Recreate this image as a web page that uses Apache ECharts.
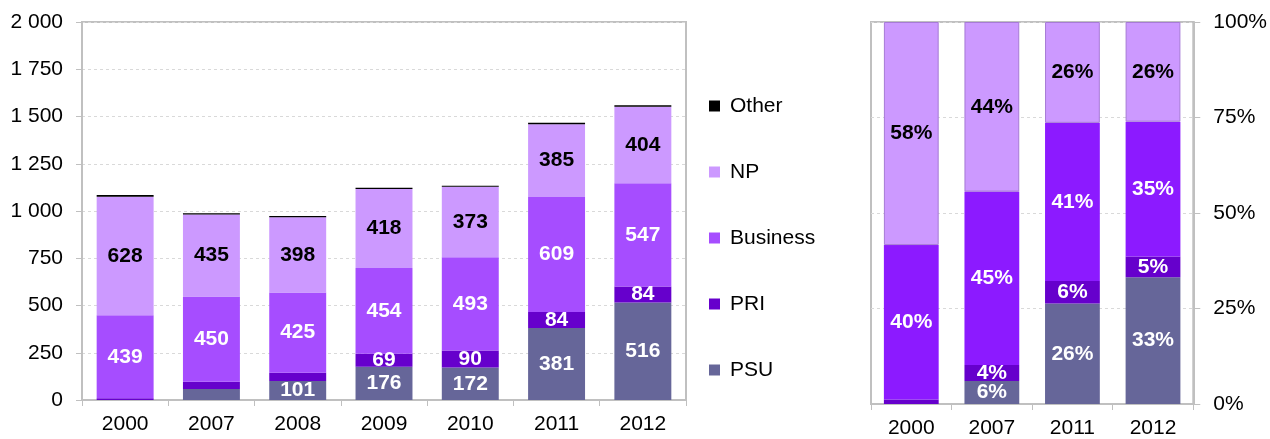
<!DOCTYPE html>
<html>
<head>
<meta charset="utf-8">
<script src="https://cdn.jsdelivr.net/npm/echarts@6/dist/echarts.min.js"></script>
<style>
  html, body { margin: 0; padding: 0; background: #fff; }
  #chart { width: 1270px; height: 439px; }
</style>
</head>
<body>
<div id="chart"></div>
<script>
// Absolute volumes by year and sector
const years = ['2000', '2007', '2008', '2009', '2010', '2011', '2012'];
const psu = [0, 58, 101, 176, 172, 381, 516];
const pri = [9, 39, 43, 69, 90, 84, 84];
const business = [439, 450, 425, 454, 493, 609, 547];
const np = [628, 435, 398, 418, 373, 385, 404];
const other = [8, 6, 7, 6, 5, 8, 8];

// Sector shares (%) for selected years
const shareYears = ['2000', '2007', '2011', '2012'];
const psuShare = [0, 6.0, 26.3, 33.2];
const priShare = [1.2, 4.2, 5.9, 5.4];
const businessShare = [40.4, 45.4, 41.4, 35.3];
const npShare = [58.4, 44.4, 26.4, 26.1];

const legendOrder = ['Other', 'NP', 'Business', 'PRI', 'PSU'];

const FONT = 'Liberation Sans, Arial, sans-serif';
const FONT_SIZE = 21;
const GRID_GRAY = '#c0c0c0';
const COLORS = {
  PSU: '#666699',
  PRI: '#6600cc',
  Business: '#a64dff',
  BusinessShare: '#8c1aff',
  NP: '#cc99ff',
  Other: '#000000'
};

function thousands(v) {
  if (v >= 1000) {
    return Math.floor(v / 1000) + ' ' + String(v % 1000).padStart(3, '0');
  }
  return String(v);
}

function valueLabel(color, minShown) {
  return {
    show: true,
    position: 'inside',
    color: color,
    fontFamily: FONT,
    fontWeight: 'bold',
    fontSize: FONT_SIZE,
    formatter: p => (p.value >= minShown ? String(p.value) : '')
  };
}

function shareLabel(color, minShown) {
  return {
    show: true,
    position: 'inside',
    color: color,
    fontFamily: FONT,
    fontWeight: 'bold',
    fontSize: FONT_SIZE,
    formatter: p => (p.value >= minShown ? Math.round(p.value) + '%' : '')
  };
}

const axisLabelStyle = { color: '#000', fontFamily: FONT, fontSize: FONT_SIZE };

const chart = echarts.init(document.getElementById('chart'), null, { renderer: 'canvas' });

chart.setOption({
  animation: false,
  backgroundColor: '#fff',
  legend: {
    orient: 'vertical',
    left: 704,
    top: 90,
    itemWidth: 11,
    itemHeight: 11,
    itemGap: 44,
    icon: 'rect',
    data: legendOrder,
    selectedMode: false,
    textStyle: { color: '#000', fontFamily: FONT, fontSize: FONT_SIZE, lineHeight: 22, padding: [0, 0, 0, 5] }
  },
  grid: [
    { left: 82, top: 22, width: 604, height: 378, show: true, borderColor: GRID_GRAY, borderWidth: 2, containLabel: false },
    { left: 871, top: 22, width: 324, height: 383, show: true, borderColor: GRID_GRAY, borderWidth: 2, containLabel: false }
  ],
  xAxis: [
    {
      type: 'category', gridIndex: 0, data: years,
      axisLine: { show: true, lineStyle: { color: GRID_GRAY, width: 2 } },
      axisTick: { show: true, length: 6, lineStyle: { color: GRID_GRAY, width: 1 } },
      axisLabel: Object.assign({ margin: 14 }, axisLabelStyle),
      splitLine: { show: false }
    },
    {
      type: 'category', gridIndex: 1, data: shareYears,
      axisLine: { show: true, lineStyle: { color: GRID_GRAY, width: 2 } },
      axisTick: { show: true, length: 6, lineStyle: { color: GRID_GRAY, width: 1 } },
      axisLabel: Object.assign({ margin: 14 }, axisLabelStyle),
      splitLine: { show: false }
    }
  ],
  yAxis: [
    {
      type: 'value', gridIndex: 0, min: 0, max: 2000, interval: 250,
      axisLine: { show: true, lineStyle: { color: GRID_GRAY, width: 2 } },
      axisTick: { show: true, length: 6, lineStyle: { color: GRID_GRAY, width: 1 } },
      axisLabel: Object.assign({ margin: 19, formatter: thousands }, axisLabelStyle),
      splitLine: { show: true, lineStyle: { color: '#d9d9d9', width: 1, type: [3, 3] } }
    },
    {
      type: 'value', gridIndex: 1, min: 0, max: 100, interval: 25, position: 'right',
      axisLine: { show: true, lineStyle: { color: GRID_GRAY, width: 2 } },
      axisTick: { show: true, length: 7, lineStyle: { color: GRID_GRAY, width: 1 } },
      axisLabel: Object.assign({ margin: 20, formatter: '{value}%' }, axisLabelStyle),
      splitLine: { show: true, lineStyle: { color: '#d9d9d9', width: 1, type: [3, 3] } }
    }
  ],
  series: [
    // Volumes, stacked
    { name: 'PSU', type: 'bar', stack: 'vol', xAxisIndex: 0, yAxisIndex: 0, data: psu,
      barCategoryGap: '34%', itemStyle: { color: COLORS.PSU }, label: valueLabel('#fff', 60) },
    { name: 'PRI', type: 'bar', stack: 'vol', xAxisIndex: 0, yAxisIndex: 0, data: pri,
      itemStyle: { color: COLORS.PRI }, label: valueLabel('#fff', 60) },
    { name: 'Business', type: 'bar', stack: 'vol', xAxisIndex: 0, yAxisIndex: 0, data: business,
      itemStyle: { color: COLORS.Business }, label: valueLabel('#fff', 60) },
    { name: 'NP', type: 'bar', stack: 'vol', xAxisIndex: 0, yAxisIndex: 0, data: np,
      itemStyle: { color: COLORS.NP }, label: valueLabel('#000', 60) },
    { name: 'Other', type: 'bar', stack: 'vol', xAxisIndex: 0, yAxisIndex: 0, data: other,
      itemStyle: { color: COLORS.Other }, label: { show: false } },

    // Shares, stacked to 100%
    { name: 'PSU', type: 'bar', stack: 'share', xAxisIndex: 1, yAxisIndex: 1, data: psuShare,
      barCategoryGap: '32%', itemStyle: { color: COLORS.PSU }, label: shareLabel('#fff', 3) },
    { name: 'PRI', type: 'bar', stack: 'share', xAxisIndex: 1, yAxisIndex: 1, data: priShare,
      itemStyle: { color: COLORS.PRI }, label: shareLabel('#fff', 3) },
    { name: 'Business', type: 'bar', stack: 'share', xAxisIndex: 1, yAxisIndex: 1, data: businessShare,
      itemStyle: { color: COLORS.BusinessShare }, label: shareLabel('#fff', 3) },
    { name: 'NP', type: 'bar', stack: 'share', xAxisIndex: 1, yAxisIndex: 1, data: npShare,
      itemStyle: { color: COLORS.NP, borderColor: '#a67ad6', borderWidth: 1 }, label: shareLabel('#000', 3) }
  ]
});
</script>
</body>
</html>
